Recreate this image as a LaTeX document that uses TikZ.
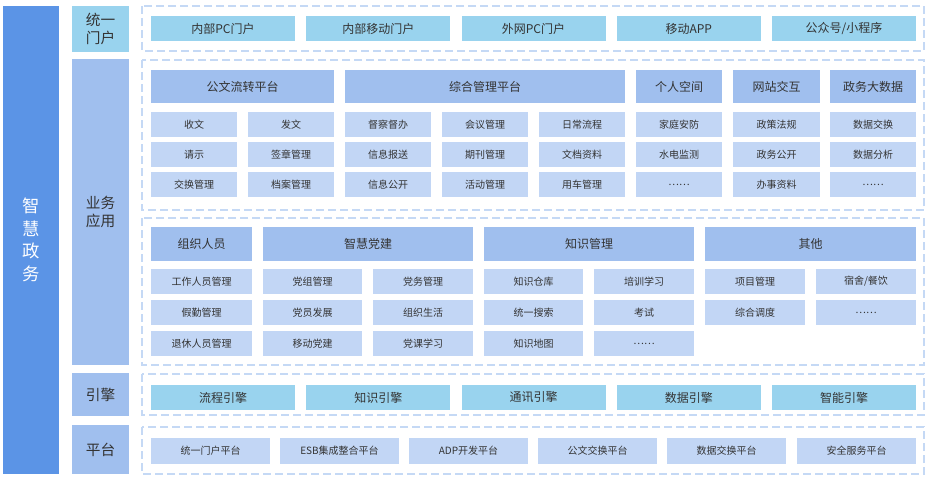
\documentclass[tikz,border=0pt]{standalone}
\usepackage{fontspec}
\setmainfont{Noto Sans CJK SC}
\definecolor{cyanb}{HTML}{99D3EE}
\definecolor{midb}{HTML}{A0BFEE}
\definecolor{subb}{HTML}{C2D6F5}
\definecolor{darkb}{HTML}{5B94E6}
\definecolor{dashc}{HTML}{C5D9F5}
\definecolor{txt}{HTML}{333333}
\tikzset{
 base/.style={inner sep=0pt,outer sep=0pt,anchor=north west,text=txt},
 cy/.style={base,fill=cyanb,font=\fontsize{9}{10}\selectfont},
 hd/.style={base,fill=midb,font=\fontsize{9}{10}\selectfont},
 sb/.style={base,fill=subb,font=\fontsize{7.5}{9}\selectfont},
 lab/.style={base,fill=midb,font=\fontsize{11}{13}\selectfont,align=center},
 dbox/.style={draw=dashc,line width=1.2pt,dash pattern=on 6pt off 3pt}
}
\newcommand\bx[7][sb]{\node[#1,minimum width={(#5-#3)*0.75pt},minimum height={(#6-#4)*0.75pt}] (#2) at (#3,#4) {#7};}
\begin{document}
\begin{tikzpicture}[x=0.75pt,y=-0.75pt]
\useasboundingbox (0,0) rectangle (930,478);
\bx[base,fill=darkb,text=white,font=\fontsize{13}{17}\selectfont,align=center]{zh}{3}{6}{59}{474}{智\\慧\\政\\务}
\bx[lab,fill=cyanb]{l1}{72}{6}{129}{52}{统一\\门户}
\bx[lab]{l2}{72}{59}{129}{365}{业务\\应用}
\bx[lab]{l3}{72}{373}{129}{416}{引擎}
\bx[lab]{l4}{72}{425}{129}{474}{平台}
\draw[dbox] (142,6) rectangle (924,51);
\draw[dbox] (142,60) rectangle (924,210);
\draw[dbox] (142,218) rectangle (924,365);
\draw[dbox] (142,374) rectangle (924,415);
\draw[dbox] (142,427) rectangle (924,474);
\foreach \t [count=\i] in {内部PC门户,内部移动门户,外网PC门户,移动APP,公众号/小程序}{
 \pgfmathsetmacro\xa{151+(\i-1)*155.25}
 \bx[cy]{p\i}{\xa}{16}{\xa+144}{41}{\t}
}
\foreach \t [count=\i] in {流程引擎,知识引擎,通讯引擎,数据引擎,智能引擎}{
 \pgfmathsetmacro\xa{151+(\i-1)*155.25}
 \bx[cy]{e\i}{\xa}{385}{\xa+144}{410}{\t}
}
\foreach \t/\xa in {统一门户平台/151,ESB集成整合平台/280,ADP开发平台/409,公文交换平台/538,数据交换平台/667,安全服务平台/797}{
 \bx[sb]{pf\xa}{\xa}{438}{\xa+119}{464}{\t}
}
% top business
\bx[hd]{h1}{151}{70}{334}{103}{公文流转平台}
\bx[hd]{h2}{345}{70}{625}{103}{综合管理平台}
\bx[hd]{h3}{636}{70}{722}{103}{个人空间}
\bx[hd]{h4}{733}{70}{820}{103}{网站交互}
\bx[hd]{h5}{830}{70}{916}{103}{政务大数据}
\foreach \xa/\xb/\a/\b/\c [count=\i] in {151/237/收文/请示/交换管理,248/334/发文/签章管理/档案管理,345/431/督察督办/信息报送/信息公开,442/528/会议管理/期刊管理/活动管理,539/625/日常流程/文档资料/用车管理,636/722/家庭安防/水电监测/……,733/820/政策法规/政务公开/办事资料,830/916/数据交换/数据分析/……}{
 \bx{ta\i}{\xa}{112}{\xb}{137}{\a}
 \bx{tb\i}{\xa}{142}{\xb}{167}{\b}
 \bx{tc\i}{\xa}{172}{\xb}{197}{\c}
}
% bottom business
\bx[hd]{g1}{151}{227}{252}{261}{组织人员}
\bx[hd]{g2}{263}{227}{473}{261}{智慧党建}
\bx[hd]{g3}{484}{227}{694}{261}{知识管理}
\bx[hd]{g4}{705}{227}{916}{261}{其他}
\foreach \xa/\xb/\a/\b/\c [count=\i] in {151/252/工作人员管理/假勤管理/退休人员管理,263/362/党组管理/党员发展/移动党建,373/473/党务管理/组织生活/党课学习,484/583/知识仓库/统一搜索/知识地图,594/694/培训学习/考试/……}{
 \bx{ba\i}{\xa}{269}{\xb}{294}{\a}
 \bx{bb\i}{\xa}{300}{\xb}{325}{\b}
 \bx{bc\i}{\xa}{331}{\xb}{356}{\c}
}
\bx{ba6}{705}{269}{805}{294}{项目管理}
\bx{bb6}{705}{300}{805}{325}{综合调度}
\bx{ba7}{816}{269}{916}{294}{宿舍/餐饮}
\bx{bb7}{816}{300}{916}{325}{……}
\end{tikzpicture}
\end{document}
